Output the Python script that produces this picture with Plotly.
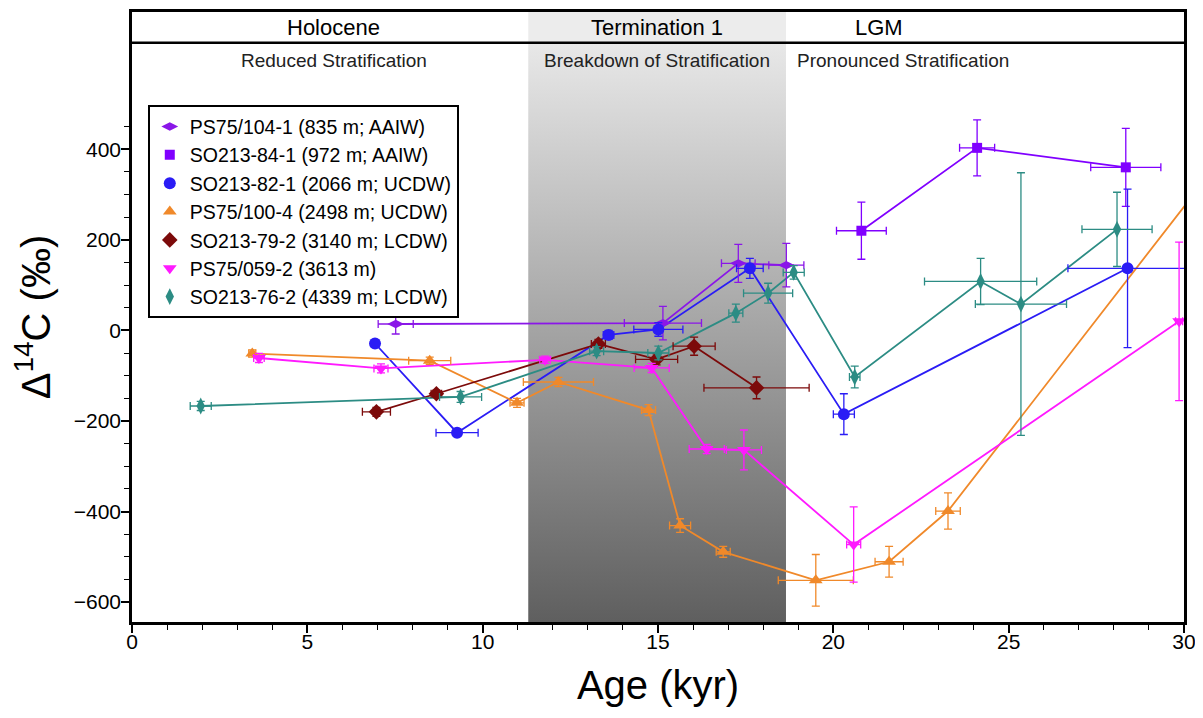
import plotly.graph_objects as go

# ---------------- data ----------------
s1_name = "PS75/104-1 (835 m; AAIW)"
s1_x = [7.52, 15.14, 17.29, 18.66]
s1_y = [14, 16, 148, 144]
s1_xe = [0.5, 1.1, 0.48, 0.5]
s1_ye = [22, 37, 42, 48]

s2_name = "SO213-84-1 (972 m; AAIW)"
s2_x = [20.8, 24.1, 28.34]
s2_y = [220, 403, 360]
s2_xe = [0.71, 0.5, 1.0]
s2_ye = [63, 62, 86]

s3_name = "SO213-82-1 (2066 m; UCDW)"
s3_x = [6.93, 9.27, 13.59, 15.01, 17.62, 20.3, 28.39]
s3_y = [-29, -226, -10, 2, 137, -185, 137]
s3_xe = [0.1, 0.6, 0.15, 0.7, 0.38, 0.3, 1.7]
s3_ye = [5, 8, 10, 15, 22, 45, 175]

s4_name = "PS75/100-4 (2498 m; UCDW)"
s4_x = [3.43, 8.49, 10.98, 12.16, 14.73, 15.63, 16.86, 19.5, 21.59, 23.27, 31.0]
s4_y = [-51, -67, -160, -114, -176, -431, -489, -552, -511, -399, 373]
s4_xe = [0.1, 0.6, 0.2, 1.0, 0.2, 0.3, 0.2, 1.07, 0.4, 0.35, 0.5]
s4_ye = [8, 8, 10, 10, 12, 15, 12, 57, 34, 40, 50]

s5_name = "SO213-79-2 (3140 m; LCDW)"
s5_x = [6.97, 8.68, 13.3, 14.96, 16.03, 17.81]
s5_y = [-180, -140, -30, -64, -35, -127]
s5_xe = [0.4, 0.15, 0.2, 0.6, 0.6, 1.5]
s5_ye = [10, 8, 10, 12, 20, 24]

s6_name = "PS75/059-2 (3613 m)"
s6_x = [3.62, 7.1, 11.78, 14.82, 16.39, 17.45, 20.58, 29.86]
s6_y = [-61, -84, -65, -83, -262, -264, -473, 20]
s6_xe = [0.15, 0.2, 0.15, 0.5, 0.5, 0.5, 0.2, 0.1]
s6_ye = [10, 10, 8, 10, 10, 44, 83, 175]

s7_name = "SO213-76-2 (4339 m; LCDW)"
s7_x = [1.96, 9.37, 13.25, 15.01, 17.22, 18.14, 18.87, 20.61, 24.2, 25.35, 28.09]
s7_y = [-167, -147, -46, -50, 38, 82, 128, -103, 108, 58, 223]
s7_xe = [0.3, 0.6, 0.2, 0.3, 0.2, 0.7, 0.3, 0.15, 1.6, 1.3, 1.0]
s7_ye = [10, 12, 10, 15, 20, 22, 15, 24, 51, 290, 82]

band_x0, band_x1 = 11.3, 18.65          # Termination 1
y_min, y_header, y_max = -644, 635, 703  # axis range and header separator

header_labels = ["Holocene", "Termination 1", "LGM"]
header_x = [5.75, 14.97, 21.3]
sub_labels = ["Reduced Stratification", "Breakdown of Stratification", "Pronounced Stratification"]
sub_x = [5.75, 14.97, 22.0]

# ---------------- styling ----------------
FONT = "Liberation Sans, Arial, Helvetica, sans-serif"
series = [
    (s1_name, s1_x, s1_y, s1_xe, s1_ye, "#8a16e8", "diamond-wide", 12),
    (s2_name, s2_x, s2_y, s2_xe, s2_ye, "#8000ff", "square", 10),
    (s3_name, s3_x, s3_y, s3_xe, s3_ye, "#2a1cf5", "circle", 12),
    (s4_name, s4_x, s4_y, s4_xe, s4_ye, "#f0892a", "triangle-up", 12),
    (s5_name, s5_x, s5_y, s5_xe, s5_ye, "#7c0a0a", "diamond", 12),
    (s6_name, s6_x, s6_y, s6_xe, s6_ye, "#ff1aff", "triangle-down", 12),
    (s7_name, s7_x, s7_y, s7_xe, s7_ye, "#2c8c84", "diamond-tall", 12),
]

fig = go.Figure()

# gradient band (Termination 1)
fig.add_trace(go.Scatter(
    x=[band_x0, band_x1, band_x1, band_x0, band_x0],
    y=[y_min, y_min, y_header, y_header, y_min],
    mode="lines", line=dict(width=0), fill="toself",
    fillgradient=dict(type="vertical",
                      colorscale=[[0, "#5f5f5f"], [1, "#e8e8e8"]]),
    showlegend=False, hoverinfo="skip"))

# connecting lines (no legend entry)
for name, xs, ys, xe, ye, col, sym, sz in series:
    fig.add_trace(go.Scatter(
        x=xs, y=ys, mode="lines", line=dict(color=col, width=1.8),
        showlegend=False, legendgroup=name, hoverinfo="skip"))

# markers with error bars (legend shows marker only)
for name, xs, ys, xe, ye, col, sym, sz in series:
    fig.add_trace(go.Scatter(
        x=xs, y=ys, name=name, mode="markers", legendgroup=name,
        marker=dict(symbol=sym, size=sz, color=col, line=dict(width=0)),
        error_x=dict(type="data", array=xe, visible=True, color=col,
                     thickness=1.3, width=4),
        error_y=dict(type="data", array=ye, visible=True, color=col,
                     thickness=1.3, width=4),
    ))

shapes = [
    dict(type="rect", xref="x", yref="y", x0=band_x0, x1=band_x1,
         y0=y_header, y1=y_max, fillcolor="#ececec", line=dict(width=0),
         layer="below"),
    dict(type="line", xref="paper", yref="y", x0=0, x1=1,
         y0=y_header, y1=y_header, line=dict(color="black", width=2.5)),
]

annotations = []
for t, xv in zip(header_labels, header_x):
    annotations.append(dict(x=xv, y=(y_header + y_max) / 2, xref="x", yref="y",
                            text=t, showarrow=False,
                            font=dict(family=FONT, size=22, color="black")))
for t, xv in zip(sub_labels, sub_x):
    annotations.append(dict(x=xv, y=597, xref="x", yref="y",
                            text=t, showarrow=False,
                            font=dict(family=FONT, size=19, color="#222")))

major_y = [-600, -400, -200, 0, 200, 400]
minor_y = [v for v in range(-550, 451, 50) if v not in major_y]

fig.update_layout(
    width=1195, height=710,
    margin=dict(l=124, r=19, t=1, b=96),
    paper_bgcolor="white", plot_bgcolor="white",
    font=dict(family=FONT, color="black"),
    shapes=shapes, annotations=annotations,
    showlegend=True,
    legend=dict(x=0.015, y=0.847, xanchor="left", yanchor="top",
                bgcolor="white", bordercolor="black", borderwidth=2,
                font=dict(family=FONT, size=19.5, color="black"),
                tracegroupgap=0, itemwidth=30),
    xaxis=dict(range=[0, 30], showgrid=False, zeroline=False,
               showline=True, linewidth=2.5, linecolor="black", mirror=True,
               tickmode="array", tickvals=[0, 5, 10, 15, 20, 25, 30],
               ticks="outside", ticklen=8, tickwidth=1.5, tickcolor="black",
               tickfont=dict(family=FONT, size=21), ticklabelstandoff=-9,
               minor=dict(tickmode="array", tickvals=[v for v in range(1, 30) if v % 5],
                          ticks="outside", ticklen=5, tickwidth=1.2, tickcolor="black"),
               title=dict(text="Age (kyr)", font=dict(family=FONT, size=40), standoff=20)),
    yaxis=dict(range=[y_min, y_max], showgrid=False, zeroline=False,
               showline=True, linewidth=2.5, linecolor="black", mirror=True,
               tickmode="array", tickvals=major_y,
               ticks="outside", ticklen=8, tickwidth=1.5, tickcolor="black",
               tickfont=dict(family=FONT, size=21), ticklabelstandoff=-4,
               minor=dict(tickmode="array", tickvals=minor_y,
                          ticks="outside", ticklen=5, tickwidth=1.2, tickcolor="black"),
               title=dict(text="Δ<sup>14</sup>C (‰)", font=dict(family=FONT, size=40), standoff=18)),
)

fig.write_html("out.html")
